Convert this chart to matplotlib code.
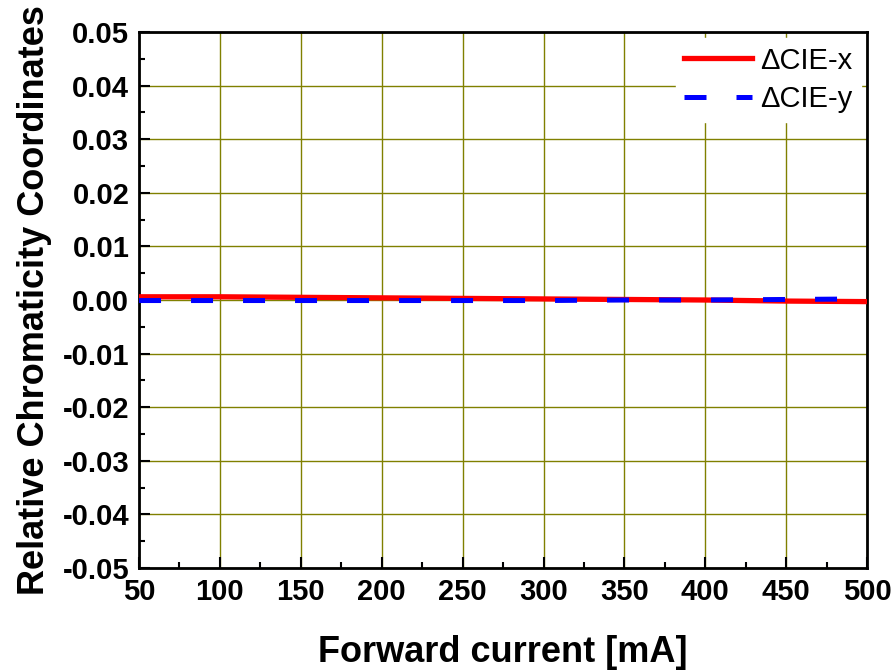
import numpy as np
import matplotlib.pyplot as plt
from matplotlib.ticker import MultipleLocator, FuncFormatter

plt.rcParams['font.family'] = ['Liberation Sans', 'DejaVu Sans']

# data
current = [50, 100, 150, 200, 250, 300, 350, 400, 450, 500]
d_cie_x = [0.0006, 0.0006, 0.0005, 0.0004, 0.0003, 0.0002, 0.0001, 0.0000, -0.0002, -0.0003]
d_cie_y = [-0.0001, -0.0001, -0.0001, -0.0001, -0.0001, -0.0001, 0.0000, 0.0000, 0.0001, 0.0002]

fig = plt.figure(figsize=(8.93, 6.71), dpi=100)
ax = fig.add_axes([0.1557, 0.1535, 0.8153, 0.9523 - 0.1535])

ax.plot(current, d_cie_x, color='red', lw=3.8, label='\u0394CIE-x', zorder=3)
ax.plot(current, d_cie_y, color='blue', lw=3.6, dashes=(4.4, 6), label='\u0394CIE-y', zorder=4)

ax.set_xlim(50, 500)
ax.set_ylim(-0.05, 0.05)
ax.xaxis.set_major_locator(MultipleLocator(50))
ax.xaxis.set_minor_locator(MultipleLocator(25))
ax.yaxis.set_major_locator(MultipleLocator(0.01))
ax.yaxis.set_minor_locator(MultipleLocator(0.005))
ax.yaxis.set_major_formatter(FuncFormatter(lambda v, p: f'{0.0 if abs(v) < 1e-9 else v:.2f}'))

ax.grid(True, which='major', color='#808000', lw=1, zorder=1)
ax.tick_params(which='major', direction='in', length=8, width=1.5, labelsize=21, pad=7)
ax.tick_params(which='minor', direction='in', length=4.5, width=1.5)
ax.tick_params(top=False, right=False)
for lbl in ax.get_xticklabels() + ax.get_yticklabels():
    lbl.set_fontweight('bold')
for s in ax.spines.values():
    s.set_linewidth(2)

ax.set_xlabel('Forward current [mA]', fontsize=26, fontweight='bold', labelpad=21)
ax.set_ylabel('Relative Chromaticity Coordinates', fontsize=26, fontweight='bold', labelpad=8)

leg = ax.legend(loc='upper right', fontsize=21, frameon=True, fancybox=False,
                edgecolor='white', framealpha=1, handlelength=2.3,
                borderaxespad=0.2, labelspacing=0.35, handletextpad=0.3,
                borderpad=0.3)

fig.savefig('out.png', dpi=100)
